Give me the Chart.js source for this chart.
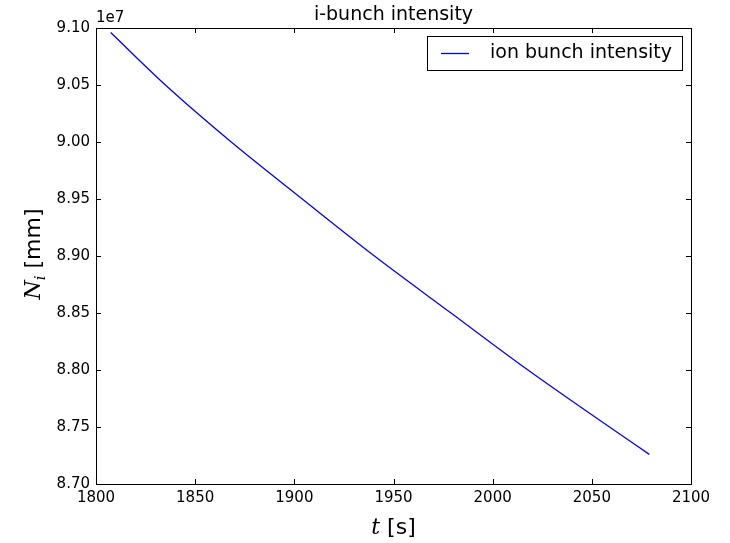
<!DOCTYPE html>
<html>
<head>
<meta charset="utf-8">
<title>i-bunch intensity</title>
<script src="https://cdn.jsdelivr.net/npm/chart.js@4.4.0/dist/chart.umd.min.js"></script>
<style>
  html, body { margin: 0; padding: 0; background: #fff; }
  #chartBox { width: 730px; height: 543px; }
</style>
</head>
<body>
<div id="chartBox"><canvas id="intensityChart" width="730" height="543"></canvas></div>
<script>
// time [s] and ion bunch intensity in units of 1e7
const timeSec = [1807.4, 1835.0, 1868.2, 1904.0, 1940.4, 1979.0, 2017.8, 2058.9, 2079.0];
const intensity = [9.096, 9.050, 9.000, 8.950, 8.900, 8.850, 8.800, 8.750, 8.726];

const xTicks = [1800, 1850, 1900, 1950, 2000, 2050, 2100];
const yTicks = [8.70, 8.75, 8.80, 8.85, 8.90, 8.95, 9.00, 9.05, 9.10];

const seriesLabel = 'ion bunch intensity';
const chartTitle = 'i-bunch intensity';
const offsetText = '1e7';

const SANS = '"DejaVu Sans", sans-serif';
const SERIF = '"DejaVu Serif", "Liberation Serif", serif';

// frame, inward ticks, title, legend and axis titles (matplotlib look)
const decorations = {
    id: 'decorations',
    afterDraw(chart) {
        const ctx = chart.ctx;
        const a = chart.chartArea;
        const xs = chart.scales.x;
        const ys = chart.scales.y;
        const tick = 5;

        ctx.save();
        ctx.strokeStyle = '#000';
        ctx.lineWidth = 1;

        // axes box
        ctx.strokeRect(Math.round(a.left) + 0.5, Math.round(a.top) + 0.5,
            Math.round(a.right - a.left), Math.round(a.bottom - a.top));

        // ticks on all four sides, pointing in
        ctx.beginPath();
        for (let v of xTicks) {
            let px = Math.round(xs.getPixelForValue(v)) + 0.5;
            ctx.moveTo(px, a.bottom); ctx.lineTo(px, a.bottom - tick);
            ctx.moveTo(px, a.top); ctx.lineTo(px, a.top + tick);
        }
        for (let v of yTicks) {
            let py = Math.round(ys.getPixelForValue(v)) + 0.5;
            ctx.moveTo(a.left, py); ctx.lineTo(a.left + tick, py);
            ctx.moveTo(a.right, py); ctx.lineTo(a.right - tick, py);
        }
        ctx.stroke();

        ctx.fillStyle = '#000';
        const cx = (a.left + a.right) / 2;

        // title
        ctx.font = '19px ' + SANS;
        ctx.textAlign = 'center';
        ctx.textBaseline = 'alphabetic';
        ctx.fillText(chartTitle, cx, 20);

        // offset text
        ctx.font = '15px ' + SANS;
        ctx.textAlign = 'left';
        ctx.fillText(offsetText, a.left, 22);

        // legend
        const lx = 427.5, ly = 36.5, lw = 255, lh = 34;
        ctx.fillStyle = '#fff';
        ctx.fillRect(lx, ly, lw, lh);
        ctx.strokeRect(lx, ly, lw, lh);
        ctx.strokeStyle = chart.data.datasets[0].borderColor;
        ctx.lineWidth = 1.3;
        ctx.beginPath();
        ctx.moveTo(441, ly + lh / 2);
        ctx.lineTo(469, ly + lh / 2);
        ctx.stroke();
        ctx.fillStyle = '#000';
        ctx.font = '19px ' + SANS;
        ctx.textBaseline = 'middle';
        ctx.fillText(chart.data.datasets[0].label, 490, ly + lh / 2);

        // x axis title: t [s]
        ctx.textBaseline = 'alphabetic';
        ctx.font = 'italic 22px ' + SERIF;
        let w1 = ctx.measureText('t').width;
        ctx.font = '22px ' + SANS;
        let w2 = ctx.measureText(' [s]').width;
        let x0 = cx - (w1 + w2) / 2;
        ctx.font = 'italic 22px ' + SERIF;
        ctx.fillText('t', x0, 534);
        ctx.font = '22px ' + SANS;
        ctx.fillText(' [s]', x0 + w1, 534);

        // y axis title: N_i [mm]
        ctx.translate(40, (a.top + a.bottom) / 2 - 2);
        ctx.rotate(-Math.PI / 2);
        ctx.font = 'italic 22px ' + SERIF;
        let wn = ctx.measureText('N').width;
        ctx.font = 'italic 15px ' + SERIF;
        let wi = ctx.measureText('i').width;
        ctx.font = '22px ' + SANS;
        let wm = ctx.measureText(' [mm]').width;
        let y0 = -(wn + wi + wm) / 2;
        ctx.font = 'italic 22px ' + SERIF;
        ctx.fillText('N', y0, 0);
        ctx.font = 'italic 15px ' + SERIF;
        ctx.fillText('i', y0 + wn, 5);
        ctx.font = '22px ' + SANS;
        ctx.fillText(' [mm]', y0 + wn + wi, 0);

        ctx.restore();
    }
};

const ctx = document.getElementById('intensityChart').getContext('2d');
new Chart(ctx, {
    type: 'line',
    data: {
        datasets: [{
            label: seriesLabel,
            data: timeSec.map((t, i) => ({ x: t, y: intensity[i] })),
            borderColor: '#0000ff',
            borderWidth: 1.3,
            pointRadius: 0,
            cubicInterpolationMode: 'monotone',
            fill: false
        }]
    },
    options: {
        responsive: false,
        devicePixelRatio: 1,
        animation: false,
        layout: { padding: { left: 0, top: 28, right: 39, bottom: 0 } },
        plugins: {
            legend: { display: false },
            title: { display: false },
            tooltip: { enabled: false }
        },
        scales: {
            x: {
                type: 'linear',
                min: 1800,
                max: 2100,
                afterBuildTicks: s => { s.ticks = xTicks.map(v => ({ value: v })); },
                afterFit: s => { s.height = 59; },
                grid: { display: false, drawTicks: false },
                border: { display: false },
                ticks: {
                    padding: 5,
                    maxRotation: 0,
                    color: '#000',
                    font: { family: SANS, size: 15 },
                    callback: v => String(v)
                }
            },
            y: {
                type: 'linear',
                min: 8.70,
                max: 9.10,
                afterBuildTicks: s => { s.ticks = yTicks.map(v => ({ value: v })); },
                afterFit: s => { s.width = 96; },
                grid: { display: false, drawTicks: false },
                border: { display: false },
                ticks: {
                    padding: 6,
                    color: '#000',
                    font: { family: SANS, size: 15 },
                    callback: v => v.toFixed(2)
                }
            }
        }
    },
    plugins: [decorations]
});
</script>
</body>
</html>
